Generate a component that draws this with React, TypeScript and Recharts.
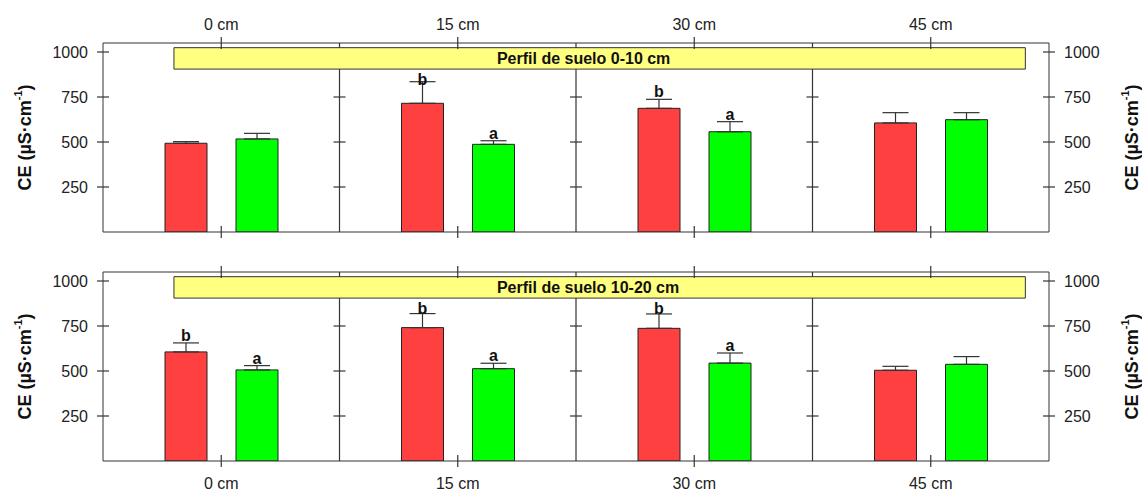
import React from 'react';
import {
  ComposedChart,
  Bar,
  ErrorBar,
  LabelList,
  XAxis,
  YAxis,
  ReferenceArea,
  ReferenceLine,
  ReferenceDot,
} from 'recharts';

const categories = ['0 cm', '15 cm', '30 cm', '45 cm'];
const yTicks = [250, 500, 750, 1000];
const sepTicks = [250, 500, 750];
const separators = [0.5, 1.5, 2.5];

// panel 1: Perfil de suelo 0-10 cm
const topRed = [493, 715, 687, 606];
const topRedErr = [9, 120, 50, 57];
const topGreen = [517, 487, 557, 624];
const topGreenErr = [31, 20, 56, 39];
const topRedLetters = ['', 'b', 'b', ''];
const topGreenLetters = ['', 'a', 'a', ''];

// panel 2: Perfil de suelo 10-20 cm
const botRed = [606, 741, 737, 504];
const botRedErr = [50, 78, 80, 22];
const botGreen = [506, 513, 544, 537];
const botGreenErr = [24, 30, 56, 43];
const botRedLetters = ['b', 'b', 'b', ''];
const botGreenLetters = ['a', 'a', 'a', ''];

const Y_MAX = 1050;
const BANNER_LOW = 905;
const BANNER_HIGH = 1024;

const FONT = '"Liberation Sans", Arial, sans-serif';
const LINE = '#333';

function XTick(props: any) {
  const { x, y, payload, side, showLabel } = props;
  return (
    <g>
      <line x1={x} x2={x} y1={y - 6} y2={y + 6} stroke={LINE} strokeWidth={1.2} />
      {showLabel && (
        <text
          x={x}
          y={side === 'top' ? y - 19 : y + 22}
          textAnchor="middle"
          dominantBaseline="central"
          fontSize={16}
          fill="#222"
        >
          {payload.value}
        </text>
      )}
    </g>
  );
}

function YTick(props: any) {
  const { x, y, payload, side } = props;
  return (
    <g>
      <line x1={x - 6} x2={x + 6} y1={y} y2={y} stroke={LINE} strokeWidth={1.2} />
      <text
        x={side === 'left' ? x - 15 : x + 15}
        y={y}
        textAnchor={side === 'left' ? 'end' : 'start'}
        dominantBaseline="central"
        fontSize={16}
        fill="#222"
      >
        {payload.value}
      </text>
    </g>
  );
}

function yLabel(dx: number) {
  return (props: any) => {
    const vb = props.viewBox;
    const cx = vb.x + dx;
    const cy = vb.y + vb.height / 2;
    return (
      <text
        x={cx}
        y={cy}
        transform={`rotate(-90, ${cx}, ${cy})`}
        textAnchor="middle"
        dominantBaseline="central"
        fontSize={18}
        fontWeight="bold"
        fill="#111"
      >
        CE (µS·cm
        <tspan fontSize={11} dy={-7}>-1</tspan>
        <tspan dy={7}>)</tspan>
      </text>
    );
  };
}

function makeLetter(vals: number[], errs: number[]) {
  return (props: any) => {
    const { value, index } = props;
    if (!value) return null;
    const vb = props.viewBox || props;
    const x = vb.x ?? props.x;
    const y = vb.y ?? props.y;
    const w = vb.width ?? props.width;
    const h = vb.height ?? props.height;
    const k = h / vals[index];
    const base = y + h;
    const capY = y - errs[index] * k;
    const bannerBottom = base - BANNER_LOW * k;
    const ty = Math.max(capY - 2, bannerBottom + 16);
    return (
      <text x={x + w / 2} y={ty} textAnchor="middle" fontSize={16} fontWeight="bold" fill="#111">
        {value}
      </text>
    );
  };
}

interface PanelProps {
  title: string;
  red: number[];
  redErr: number[];
  green: number[];
  greenErr: number[];
  redLetters: string[];
  greenLetters: string[];
  height: number;
  topH: number;
  bottomH: number;
  labelSide: 'top' | 'bottom';
}

function Panel(p: PanelProps) {
  const data = categories.map((name, i) => ({
    name,
    idx: i,
    red: p.red[i],
    redErr: p.redErr[i],
    green: p.green[i],
    greenErr: p.greenErr[i],
    redLetter: p.redLetters[i],
    greenLetter: p.greenLetters[i],
  }));

  return (
    <ComposedChart
      width={1142}
      height={p.height}
      data={data}
      margin={{ top: 0, right: 0, bottom: 0, left: 0 }}
      barGap={29}
      style={{ fontFamily: FONT }}
    >
      <XAxis
        xAxisId="top"
        orientation="top"
        dataKey="name"
        height={p.topH}
        stroke={LINE}
        tickLine={false}
        tickSize={0}
        tickMargin={0}
        interval={0}
        tick={(t: any) => <XTick {...t} side="top" showLabel={p.labelSide === 'top'} />}
      />
      <XAxis
        xAxisId="bottom"
        dataKey="name"
        height={p.bottomH}
        stroke={LINE}
        tickLine={false}
        tickSize={0}
        tickMargin={0}
        interval={0}
        tick={(t: any) => <XTick {...t} side="bottom" showLabel={p.labelSide === 'bottom'} />}
      />
      <XAxis xAxisId="num" type="number" dataKey="idx" domain={[-0.5, 3.5]} allowDataOverflow hide />
      <YAxis
        yAxisId="left"
        width={103}
        domain={[0, Y_MAX]}
        allowDataOverflow
        ticks={yTicks}
        stroke={LINE}
        tickLine={false}
        tickSize={0}
        tickMargin={0}
        tick={(t: any) => <YTick {...t} side="left" />}
        label={{ content: yLabel(25) }}
      />
      <YAxis
        yAxisId="right"
        orientation="right"
        dataKey="red"
        width={93}
        domain={[0, Y_MAX]}
        allowDataOverflow
        ticks={yTicks}
        stroke={LINE}
        tickLine={false}
        tickSize={0}
        tickMargin={0}
        tick={(t: any) => <YTick {...t} side="right" />}
        label={{ content: yLabel(83) }}
      />

      {/* group separators, interrupted where the banner sits */}
      {separators.map((s) => (
        <ReferenceLine
          key={`sepA-${s}`}
          xAxisId="num"
          yAxisId="left"
          segment={[{ x: s, y: 0 }, { x: s, y: BANNER_LOW }]}
          stroke={LINE}
          strokeWidth={1.2}
        />
      ))}
      {separators.map((s) => (
        <ReferenceLine
          key={`sepB-${s}`}
          xAxisId="num"
          yAxisId="left"
          segment={[{ x: s, y: BANNER_HIGH }, { x: s, y: Y_MAX }]}
          stroke={LINE}
          strokeWidth={1.2}
        />
      ))}
      {separators.flatMap((s) =>
        sepTicks.map((v) => (
          <ReferenceDot
            key={`st-${s}-${v}`}
            x={s}
            y={v}
            xAxisId="num"
            yAxisId="left"
            shape={(d: any) => (
              <line x1={d.cx - 6} x2={d.cx + 6} y1={d.cy} y2={d.cy} stroke={LINE} strokeWidth={1.2} />
            )}
          />
        ))
      )}
      <ReferenceArea
        xAxisId="num"
        yAxisId="left"
        x1={-0.2}
        x2={3.4}
        y1={BANNER_LOW}
        y2={BANNER_HIGH}
        fill="#FFFF80"
        fillOpacity={1}
        stroke={LINE}
        strokeWidth={1}
        label={{
          value: p.title,
          position: 'insideLeft',
          offset: 323,
          fontSize: 16,
          fontWeight: 'bold',
          fill: '#111',
        }}
      />

      <Bar
        dataKey="red"
        xAxisId="bottom"
        yAxisId="left"
        barSize={42}
        fill="#FF4040"
        stroke="#222"
        strokeWidth={1}
        isAnimationActive={false}
      >
        <ErrorBar dataKey={(d: any) => [0, d.redErr]} width={13} stroke={LINE} strokeWidth={1.2} direction="y" />
        <LabelList dataKey="redLetter" content={makeLetter(p.red, p.redErr)} />
      </Bar>
      <Bar
        dataKey="green"
        xAxisId="bottom"
        yAxisId="left"
        barSize={42}
        fill="#00FF00"
        stroke="#222"
        strokeWidth={1}
        isAnimationActive={false}
      >
        <ErrorBar dataKey={(d: any) => [0, d.greenErr]} width={13} stroke={LINE} strokeWidth={1.2} direction="y" />
        <LabelList dataKey="greenLetter" content={makeLetter(p.green, p.greenErr)} />
      </Bar>
    </ComposedChart>
  );
}

export default function App() {
  return (
    <div style={{ position: 'absolute', left: 0, top: 0, width: 1142, height: 491, background: '#fff' }}>
      <Panel
        title="Perfil de suelo 0-10 cm"
        red={topRed}
        redErr={topRedErr}
        green={topGreen}
        greenErr={topGreenErr}
        redLetters={topRedLetters}
        greenLetters={topGreenLetters}
        height={245}
        topH={43}
        bottomH={13}
        labelSide="top"
      />
      <Panel
        title="Perfil de suelo 10-20 cm"
        red={botRed}
        redErr={botRedErr}
        green={botGreen}
        greenErr={botGreenErr}
        redLetters={botRedLetters}
        greenLetters={botGreenLetters}
        height={246}
        topH={27}
        bottomH={30}
        labelSide="bottom"
      />
    </div>
  );
}
